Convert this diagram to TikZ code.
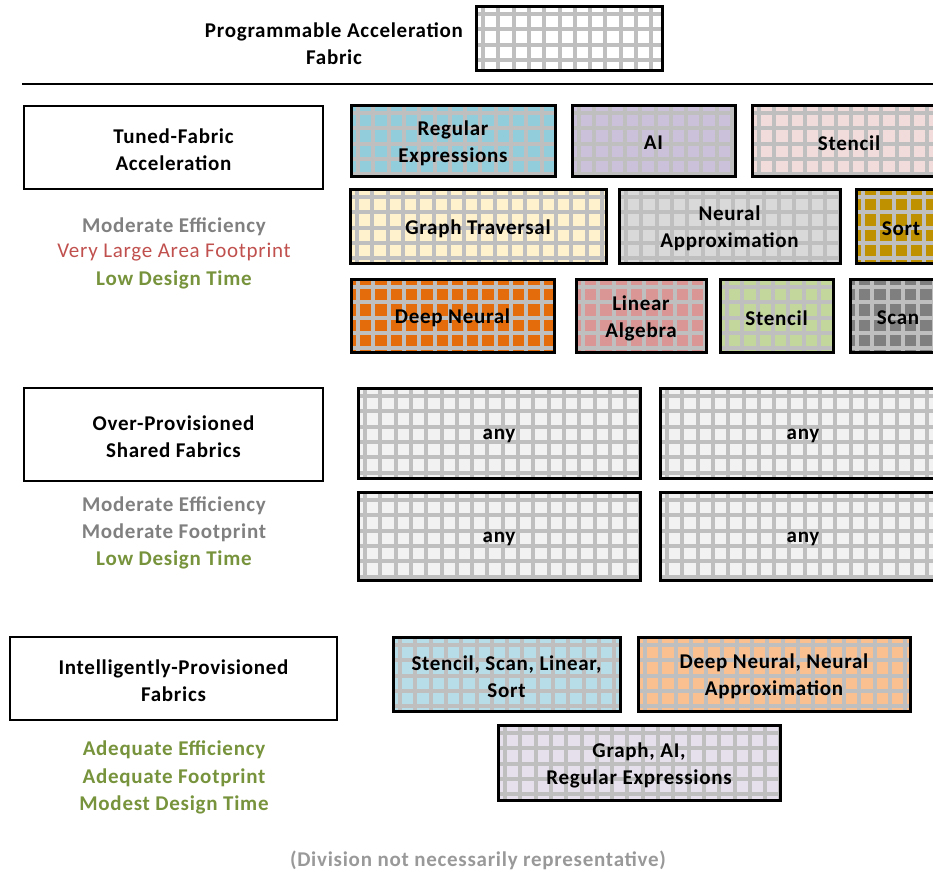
\documentclass[tikz,border=0pt]{standalone}
\usepackage{fontspec}
\setmainfont{Carlito}[LetterSpace=3.5]
\usetikzlibrary{positioning}

\definecolor{gridc}{HTML}{BFBFBF}
\definecolor{txtgray}{HTML}{808080}
\definecolor{txtred}{HTML}{C0504D}
\definecolor{txtgreen}{HTML}{77933C}
\definecolor{notegray}{HTML}{999999}

\definecolor{cRegex}{HTML}{92CDDC}
\definecolor{cAI}{HTML}{CCC1DA}
\definecolor{cStencilA}{HTML}{F2DCDB}
\definecolor{cGraph}{HTML}{FFF2CC}
\definecolor{cNeural}{HTML}{D9D9D9}
\definecolor{cSort}{HTML}{BF9000}
\definecolor{cDeep}{HTML}{E46C0A}
\definecolor{cLinear}{HTML}{D99694}
\definecolor{cStencilB}{HTML}{C3D69B}
\definecolor{cScan}{HTML}{7F7F7F}
\definecolor{cAny}{HTML}{F2F2F2}
\definecolor{cMixA}{HTML}{B7DEE8}
\definecolor{cMixB}{HTML}{FAC090}
\definecolor{cMixC}{HTML}{E6E0EC}

\tikzset{
  gridline/.style={draw=gridc, line width=4pt},
  fabricframe/.style={draw=black, line width=3pt, inner sep=0pt, outer sep=0pt},
  fabrictext/.style={font=\bfseries\fontsize{21}{27}\selectfont, align=center,
    text=black, yshift=-2.5pt},
  labelbox/.style={draw=black, line width=2.5pt, inner sep=0pt},
  labeltext/.style={font=\bfseries\fontsize{21}{27}\selectfont, align=center, yshift=-2.5pt},
  metric/.style={font=\bfseries\fontsize{21}{27}\selectfont, align=center, yshift=-2.5pt},
}

% fabric tile: name, x1, y1, x2, y2, fill colour, text
\newcommand\fabric[7]{%
  \begin{scope}
    \clip (#2,#3) rectangle (#4,#5);
    \fill[#6] (#2,#3) rectangle (#4,#5);
    \foreach \k in {0,...,40} {
      \draw[gridline] ({#2+7+15.3*\k},#3) -- ({#2+7+15.3*\k},#5);
    }
    \foreach \k in {0,...,6} {
      \draw[gridline] (#2,{#3+8+15.3*\k}) -- (#4,{#3+8+15.3*\k});
    }
  \end{scope}
  \node[fabricframe, minimum width={(#4-#2)*1pt}, minimum height={(#5-#3)*1pt}]
    (#1) at ({(#2+#4)/2},{(#3+#5)/2}) {};
  \node[fabrictext] at (#1.center) {#7};
}

\begin{document}
\begin{tikzpicture}[x=1pt, y=-1pt]
\useasboundingbox (0,0) rectangle (933,871);
\clip (0,0) rectangle (933,871);

% header
\node[fabrictext] (title) at (334,41.5) {Programmable Acceleration\\Fabric};
\fabric{generic}{476}{6}{662}{70}{white}{}
\coordinate (ruleL) at (22,84);
\coordinate (ruleR) at (940,84);
\draw[line width=2.5pt] (ruleL) -- (ruleR);

% tuned fabrics
\node[labelbox, minimum width=299pt, minimum height=83pt] (tuned) at (173.5,147.5) {};
\node[labeltext] at (tuned.center) {Tuned-Fabric\\Acceleration};
\node[metric, text=txtgray] (t1) at (174,224) {Moderate Efficiency};
\node[metric, font=\fontsize{21}{27}\selectfont, text=txtred] (t2) at (174,250) {Very Large Area Footprint};
\node[metric, text=txtgreen] (t3) at (174,277) {Low Design Time};

\fabric{regex}{351}{105}{555}{176}{cRegex}{Regular\\Expressions}
\fabric{ai}{572}{105}{735}{176}{cAI}{AI}
\fabric{stencilA}{752}{105}{946}{176}{cStencilA}{Stencil}

\fabric{graph}{350}{189}{606}{263}{cGraph}{Graph Traversal}
\fabric{neural}{619}{189}{840}{263}{cNeural}{Neural\\Approximation}
\fabric{sort}{856}{189}{946}{263}{cSort}{Sort}

\fabric{deep}{351}{279}{554}{352}{cDeep}{Deep Neural}
\fabric{linear}{576}{279}{706}{352}{cLinear}{Linear\\Algebra}
\fabric{stencilB}{720}{279}{833}{352}{cStencilB}{Stencil}
\fabric{scan}{850}{279}{946}{352}{cScan}{Scan}

% over-provisioned fabrics
\node[labelbox, minimum width=299pt, minimum height=93pt] (over) at (173.5,434.5) {};
\node[labeltext] at (over.center) {Over-Provisioned\\Shared Fabrics};
\node[metric, text=txtgray] (o1) at (174,503) {Moderate Efficiency};
\node[metric, text=txtgray] (o2) at (174,530) {Moderate Footprint};
\node[metric, text=txtgreen] (o3) at (174,557) {Low Design Time};

\fabric{anyA}{358}{388}{640}{478}{cAny}{any}
\fabric{anyB}{660}{388}{946}{478}{cAny}{any}
\fabric{anyC}{358}{492}{640}{580}{cAny}{any}
\fabric{anyD}{660}{492}{946}{580}{cAny}{any}

% intelligently-provisioned fabrics
\node[labelbox, minimum width=327pt, minimum height=83pt] (smart) at (173.5,678.5) {};
\node[labeltext] at (smart.center) {Intelligently-Provisioned\\Fabrics};
\node[metric, text=txtgreen] (s1) at (174,747) {Adequate Efficiency};
\node[metric, text=txtgreen] (s2) at (174,775) {Adequate Footprint};
\node[metric, text=txtgreen] (s3) at (174,802) {Modest Design Time};

\fabric{mixA}{393}{637}{620}{711}{cMixA}{Stencil, Scan, Linear,\\Sort}
\fabric{mixB}{638}{637}{910}{711}{cMixB}{Deep Neural, Neural\\Approximation}
\fabric{mixC}{498}{725}{780}{800}{cMixC}{Graph, AI,\\Regular Expressions}

\node[metric, text=notegray] (note) at (478,858) {(Division not necessarily representative)};
\end{tikzpicture}
\end{document}
